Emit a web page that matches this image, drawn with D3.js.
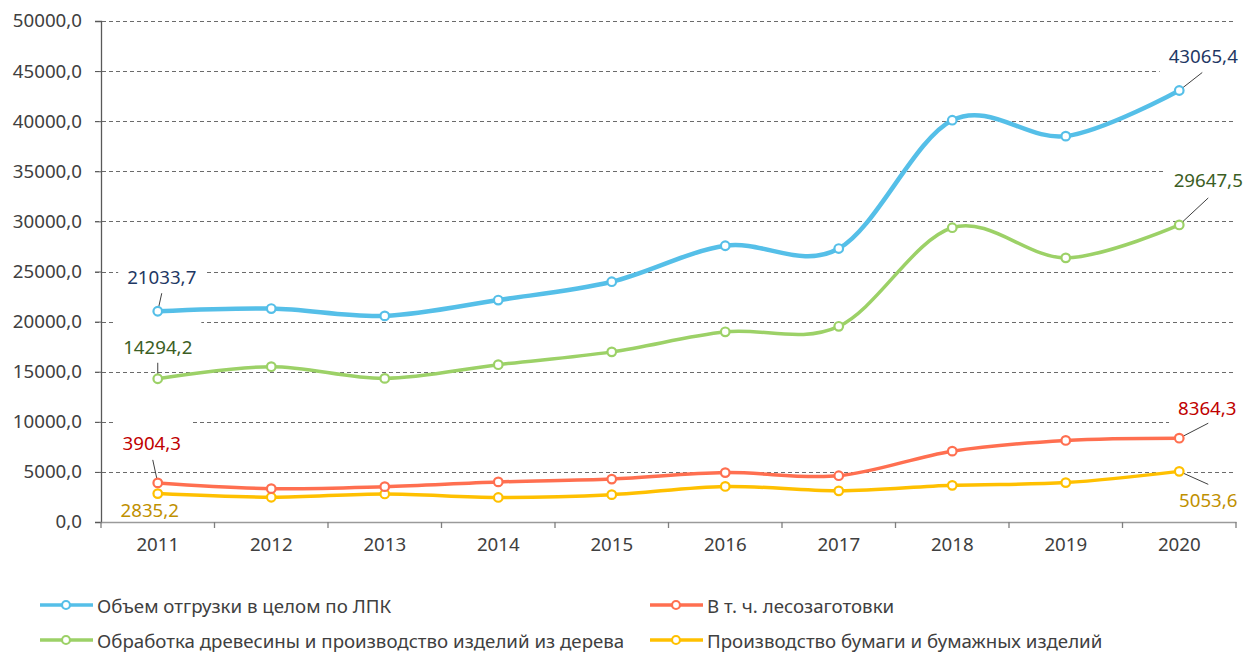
<!DOCTYPE html>
<html>
<head>
<meta charset="utf-8">
<script src="https://cdn.jsdelivr.net/npm/d3@7"></script>
<style>
    body { margin: 0; background: #fff; }
    svg { display: block; font-family: "Noto Sans", sans-serif; }
</style>
</head>
<body>
<div id="chartId"></div>
<script>
/*
Data
*/
const years = ["2011", "2012", "2013", "2014", "2015", "2016", "2017", "2018", "2019", "2020"];
const totalLpk = [21033.7, 21300, 20570, 22150, 23980, 27570, 27290, 40100, 38510, 43065.4];
const woodProcessing = [14294.2, 15500, 14330, 15700, 16980, 18980, 19530, 29370, 26360, 29647.5];
const logging = [3904.3, 3330, 3530, 4000, 4280, 4930, 4620, 7070, 8140, 8364.3];
const paper = [2835.2, 2470, 2800, 2450, 2730, 3550, 3110, 3660, 3930, 5053.6];
const seriesNames = [
    "Объем отгрузки в целом по ЛПК",
    "В т. ч. лесозаготовки",
    "Обработка древесины и производство изделий из дерева",
    "Производство бумаги и бумажных изделий"
];
const yTicks = [0, 5000, 10000, 15000, 20000, 25000, 30000, 35000, 40000, 45000, 50000];

/*
Layout / styles
*/
const W = 1244, H = 653;
const plot = { left: 101, right: 1236, top: 21, bottom: 522 };
const fontSize = "18.7px";

const series = [
    { name: seriesNames[0], values: totalLpk, color: "#55BFE8", width: 4.5, labelColor: "#1F3864" },
    { name: seriesNames[2], values: woodProcessing, color: "#9CD167", width: 3.5, labelColor: "#3B5E24" },
    { name: seriesNames[1], values: logging, color: "#FF6F50", width: 3.5, labelColor: "#C00000" },
    { name: seriesNames[3], values: paper, color: "#FFC000", width: 3.5, labelColor: "#BF9000" }
];

// end labels: series index, point index, text offset, leader start offset
const endLabels = [
    { s: 0, i: 0, dx: 4, dy: -35, lx: 4, ly: -18 },
    { s: 1, i: 0, dx: 0, dy: -32, lx: 0, ly: -16 },
    { s: 2, i: 0, dx: -6, dy: -40, lx: -5, ly: -23 },
    { s: 3, i: 0, dx: -8, dy: 16, lx: null, ly: null },
    { s: 0, i: 9, dx: 24, dy: -35, lx: 23, ly: -18 },
    { s: 1, i: 9, dx: 29, dy: -45, lx: 29, ly: -27 },
    { s: 2, i: 9, dx: 28, dy: -31, lx: 29, ly: -15 },
    { s: 3, i: 9, dx: 29, dy: 28, lx: 29, ly: 13 }
];

const fmt = v => d3.format(".1f")(v).replace(".", ",");

const svg = d3.select("#chartId").append("svg")
    .attr("width", W)
    .attr("height", H);

const x = d3.scaleBand().domain(years).range([plot.left, plot.right]).paddingInner(0).paddingOuter(0);
const y = d3.scaleLinear().domain([0, 50000]).range([plot.bottom, plot.top]);
const cx = d => x(d) + x.bandwidth() / 2;

/*
Gridlines
*/
const g_grid = svg.append("g");
g_grid.selectAll("line")
    .data(yTicks.filter(d => d > 0))
    .enter()
    .append("line")
    .attr("x1", plot.left - 6)
    .attr("x2", plot.right)
    .attr("y1", d => Math.round(y(d)) + 0.5)
    .attr("y2", d => Math.round(y(d)) + 0.5)
    .attr("stroke", "#6b6b6b")
    .attr("stroke-width", 1)
    .attr("stroke-dasharray", "4,3");

/*
Label boxes (mask gridlines) and leaders
*/
const g_labels = svg.append("g");
endLabels.forEach(l => {
    const s = series[l.s];
    const px = cx(years[l.i]), py = y(s.values[l.i]);
    const t = g_labels.append("text")
        .attr("x", px + l.dx)
        .attr("y", py + l.dy)
        .attr("text-anchor", "middle")
        .attr("dominant-baseline", "central")
        .attr("fill", s.labelColor)
        .style("font-size", fontSize)
        .text(fmt(s.values[l.i]));
    const bb = t.node().getBBox();
    g_labels.insert("rect", "text")
        .attr("x", bb.x - 9)
        .attr("y", py + l.dy - 25)
        .attr("width", bb.width + 18)
        .attr("height", 50)
        .attr("fill", "#fff");
    if (l.lx != null) {
        g_labels.append("line")
            .attr("x1", px + l.lx)
            .attr("y1", py + l.ly)
            .attr("x2", px)
            .attr("y2", py)
            .attr("stroke", "#404040")
            .attr("stroke-width", 1);
    }
});

/*
Axes (drawn over the label boxes)
*/
const yAxis = svg.append("g")
    .attr("transform", `translate(${plot.left},0)`)
    .call(d3.axisLeft(y).tickValues(yTicks).tickFormat(fmt).tickSize(6).tickPadding(13));
yAxis.select(".domain").attr("stroke", "#595959").attr("stroke-width", 1.3);
yAxis.selectAll(".tick line").attr("stroke", "#595959");
yAxis.selectAll("text").attr("fill", "#404040").style("font-size", fontSize).attr("font-family", "Noto Sans");

const xAxis = svg.append("g")
    .attr("transform", `translate(0,${plot.bottom})`)
    .call(d3.axisBottom(x).tickSize(0).tickPadding(16));
xAxis.select(".domain").attr("stroke", "#9a9a9a").attr("stroke-width", 1.5);
xAxis.selectAll("text").attr("fill", "#404040").style("font-size", fontSize).attr("font-family", "Noto Sans");
// ticks between categories
xAxis.selectAll(".sep")
    .data(years.concat(["end"]))
    .enter()
    .append("line")
    .attr("x1", (d, i) => plot.left + i * x.bandwidth())
    .attr("x2", (d, i) => plot.left + i * x.bandwidth())
    .attr("y1", 0)
    .attr("y2", 6)
    .attr("stroke", "#7f7f7f")
    .attr("stroke-width", 1.3);

/*
Series lines and markers
*/
const line = d3.line()
    .x((d, i) => cx(years[i]))
    .y(d => y(d))
    .curve(d3.curveCardinal.tension(0));

const drawOrder = [3, 2, 1, 0];
drawOrder.forEach(k => {
    const s = series[k];
    const g = svg.append("g");
    g.append("path")
        .attr("d", line(s.values))
        .attr("fill", "none")
        .attr("stroke", s.color)
        .attr("stroke-width", s.width)
        .attr("stroke-linejoin", "round");
    g.selectAll("circle")
        .data(s.values)
        .enter()
        .append("circle")
        .attr("cx", (d, i) => cx(years[i]))
        .attr("cy", d => y(d))
        .attr("r", 4.3)
        .attr("fill", "#fff")
        .attr("stroke", s.color)
        .attr("stroke-width", 2.2);
});

/*
Legend
*/
const legendItems = [
    { s: series[0], x: 40, y: 605 },
    { s: series[2], x: 650, y: 605 },
    { s: series[1], x: 40, y: 640 },
    { s: series[3], x: 650, y: 640 }
];
const g_legend = svg.append("g");
legendItems.forEach(it => {
    g_legend.append("line")
        .attr("x1", it.x).attr("x2", it.x + 53)
        .attr("y1", it.y).attr("y2", it.y)
        .attr("stroke", it.s.color)
        .attr("stroke-width", 3.5);
    g_legend.append("circle")
        .attr("cx", it.x + 26).attr("cy", it.y)
        .attr("r", 4)
        .attr("fill", "#fff")
        .attr("stroke", it.s.color)
        .attr("stroke-width", 2.2);
    g_legend.append("text")
        .attr("x", it.x + 57)
        .attr("y", it.y)
        .attr("dominant-baseline", "central")
        .attr("fill", "#404040")
        .style("font-size", fontSize)
        .text(it.s.name);
});
</script>
</body>
</html>
